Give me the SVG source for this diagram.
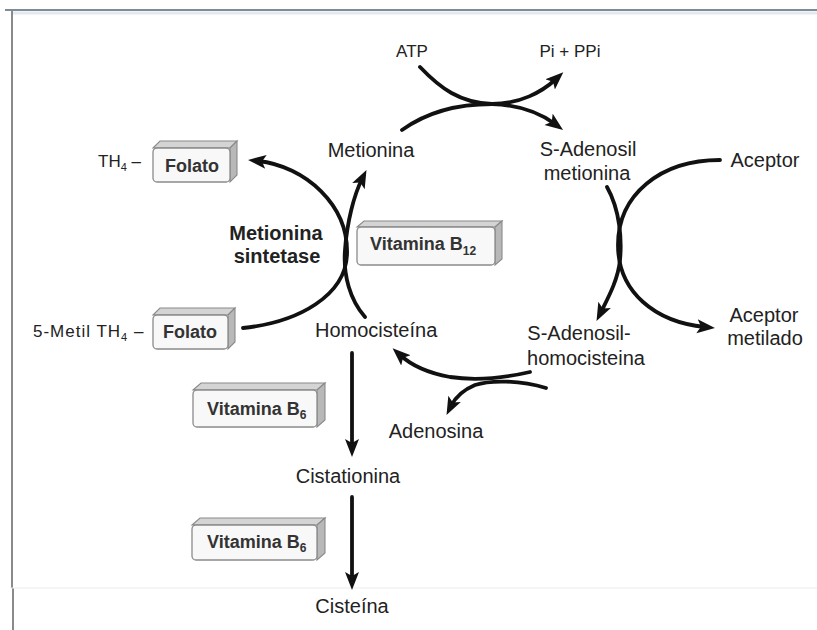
<svg xmlns="http://www.w3.org/2000/svg" width="817" height="630" viewBox="0 0 817 630">
<style>
  text { font-family: "Liberation Sans", Arial, Helvetica, sans-serif; fill: #222; }
  .lbl { font-size: 20px; }
  .sm { font-size: 17px; }
  .th { font-size: 17px; }
  .bold { font-weight: bold; }
  .boxt { font-size: 18px; font-weight: bold; fill: #333; }
  .c { text-anchor: middle; }
  .arr { fill: none; stroke: #111; stroke-width: 3.8; stroke-linecap: round; marker-end: url(#ah); }
  .front { fill: #f8f8f8; stroke: #8a8a8a; stroke-width: 1.3; }
  .top { fill: #d4d4d4; stroke: #8a8a8a; stroke-width: 1.1; }
  .side { fill: #b8b8b8; stroke: #8a8a8a; stroke-width: 1.1; }
</style>
<defs>
  <marker id="ah" markerUnits="userSpaceOnUse" markerWidth="20" markerHeight="16" refX="8" refY="7" orient="auto">
    <path d="M0,0 L18,7 L0,14 L4,7 z" fill="#111"/>
  </marker>
</defs>
<rect width="817" height="630" fill="#fff"/>
<g id="frame">
  <line x1="5" y1="10" x2="817" y2="10" stroke="#7f8c96" stroke-width="2"/>
  <rect x="12" y="11.5" width="805" height="3" fill="#e2eaef"/>
  <line x1="12" y1="11" x2="12" y2="588" stroke="#8a8a8a" stroke-width="2"/>
  <line x1="13" y1="588" x2="13" y2="630" stroke="#8a8a8a" stroke-width="2"/>
  <line x1="10" y1="588" x2="817" y2="588" stroke="#ececec" stroke-width="1"/>
</g>
<g id="connectors">
  <path class="arr" d="M420,67 C440,88 460,103 492,104 C520,105 540,113 555,124"/>
  <path class="arr" d="M402,130 C430,110 460,104 492,104 C520,104 542,92 556,79"/>
  <path class="arr" d="M720,160 C660,160 618,195 618,245 C618,292 655,322 705,327"/>
  <path class="arr" d="M607,187 C620,210 622,240 620,260 C618,280 608,298 601,312"/>
  <path class="arr" d="M530,372 C495,380 470,380 450,377 C428,373 411,365 400,355"/>
  <path class="arr" d="M546,388 C520,380 490,380 475,385 C463,390 455,398 451,406"/>
  <path class="arr" d="M243,328 C300,322 345,295 347,255 C349,205 305,166 258,161"/>
  <path class="arr" d="M365,317 C350,300 343,275 345,250 C347,222 354,195 362,179"/>
  <path class="arr" d="M352,353 L352,447"/>
  <path class="arr" d="M352,497 L352,580"/>
</g>
<g id="atp"><text class="sm c" x="412" y="57">ATP</text></g>
<g id="pippi"><text class="sm c" x="570" y="57">Pi + PPi</text></g>
<g id="metionina"><text class="lbl c" x="371" y="157">Metionina</text></g>
<g id="sam">
  <text class="lbl c" x="588" y="156">S-Adenosil</text>
  <text class="lbl c" x="587" y="180">metionina</text>
</g>
<g id="aceptor"><text class="lbl c" x="765" y="167">Aceptor</text></g>
<g id="th4-folato">
  <text class="th" x="98" y="167">TH<tspan font-size="11" dy="4">4</tspan><tspan dy="-4"> –</tspan></text>
  <polygon class="top" points="153,148 160,141 237,141 230,148"/>
  <polygon class="side" points="230,148 237,141 237,175 230,182"/>
  <rect class="front" x="153" y="148" width="77" height="34" rx="4"/>
  <text class="boxt c" x="192" y="172">Folato</text>
</g>
<g id="metionina-sintetase">
  <text class="lbl bold c" x="276" y="240">Metionina</text>
  <text class="lbl bold c" x="277" y="263">sintetase</text>
</g>
<g id="vitamina-b12">
  <polygon class="top" points="357,227 364,221 502,221 495,227"/>
  <polygon class="side" points="495,227 502,221 502,259 495,265"/>
  <rect class="front" x="357" y="227" width="138" height="38" rx="4"/>
  <text class="boxt" x="370" y="250">Vitamina B<tspan font-size="12" dy="5">12</tspan></text>
</g>
<g id="metil-th4-folato">
  <text class="th" x="33" y="337" letter-spacing="1">5-Metil TH<tspan font-size="11" dy="4">4</tspan><tspan dy="-4"> –</tspan></text>
  <polygon class="top" points="153,315 160,308 235,308 228,315"/>
  <polygon class="side" points="228,315 235,308 235,342 228,349"/>
  <rect class="front" x="153" y="315" width="75" height="34" rx="4"/>
  <text class="boxt c" x="190" y="338">Folato</text>
</g>
<g id="homocisteina"><text class="lbl" x="315" y="337">Homocisteína</text></g>
<g id="sah">
  <text class="lbl c" x="579" y="340">S-Adenosil-</text>
  <text class="lbl c" x="586" y="365">homocisteina</text>
</g>
<g id="aceptor-metilado">
  <text class="lbl c" x="764" y="322">Aceptor</text>
  <text class="lbl c" x="765" y="345">metilado</text>
</g>
<g id="adenosina"><text class="lbl c" x="436" y="438">Adenosina</text></g>
<g id="vitamina-b6-1">
  <polygon class="top" points="193,390 201,383 325,383 317,390"/>
  <polygon class="side" points="317,390 325,383 325,420 317,427"/>
  <rect class="front" x="193" y="390" width="124" height="37" rx="4"/>
  <text class="boxt" x="207" y="415">Vitamina B<tspan font-size="12" dy="4">6</tspan></text>
</g>
<g id="cistationina"><text class="lbl c" x="348" y="483">Cistationina</text></g>
<g id="vitamina-b6-2">
  <polygon class="top" points="192,525 200,518 325,518 317,525"/>
  <polygon class="side" points="317,525 325,518 325,553 317,560"/>
  <rect class="front" x="192" y="525" width="125" height="35" rx="4"/>
  <text class="boxt" x="207" y="548">Vitamina B<tspan font-size="12" dy="4">6</tspan></text>
</g>
<g id="cisteina"><text class="lbl c" x="352" y="613">Cisteína</text></g>
</svg>
